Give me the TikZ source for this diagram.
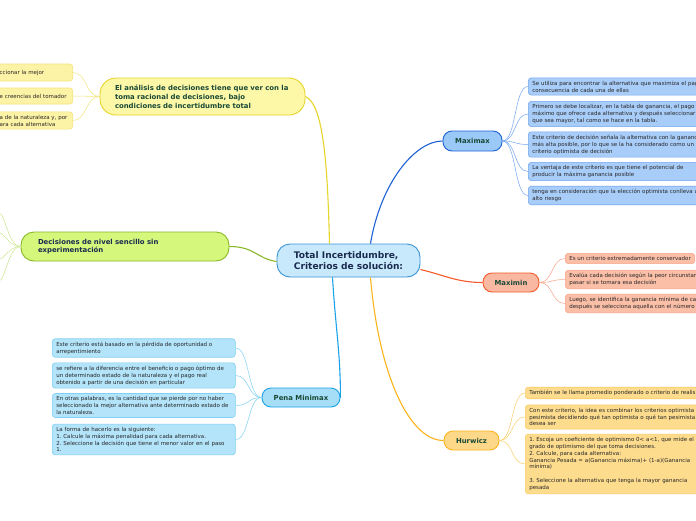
\documentclass[tikz,border=0pt]{standalone}
\usepackage{fontspec}
\setmainfont{DejaVu Sans}
\usepackage{xcolor}

\definecolor{rootfill}{HTML}{C7E9FB}
\definecolor{rootline}{HTML}{3A93D8}
\definecolor{navy}{HTML}{1B2B4F}
\definecolor{darkgreen}{HTML}{194A36}
\definecolor{leaftext}{HTML}{262626}
\definecolor{ylwfill}{HTML}{FDF7A8}
\definecolor{ylwline}{HTML}{E8D52B}
\definecolor{ylwleaf}{HTML}{FDF3A6}
\definecolor{ylwtwig}{HTML}{F2E47C}
\definecolor{grnfill}{HTML}{D4F77C}
\definecolor{grnline}{HTML}{8AB82A}
\definecolor{grntwig}{HTML}{CBE68E}
\definecolor{maxfill}{HTML}{9AC8F7}
\definecolor{maxline}{HTML}{1F62D6}
\definecolor{maxleaf}{HTML}{A9CDF9}
\definecolor{maxtwig}{HTML}{72A6F0}
\definecolor{minfill}{HTML}{F9B8A2}
\definecolor{minline}{HTML}{F25A2B}
\definecolor{minleaf}{HTML}{FBBFA8}
\definecolor{mintwig}{HTML}{F9A58A}
\definecolor{hurfill}{HTML}{FDD889}
\definecolor{hurline}{HTML}{FBB41C}
\definecolor{hurleaf}{HTML}{FDDC8E}
\definecolor{hurtwig}{HTML}{FBCF68}
\definecolor{penfill}{HTML}{A6DEF7}
\definecolor{penline}{HTML}{1BA2E8}
\definecolor{penleaf}{HTML}{B3E4FA}
\definecolor{pentwig}{HTML}{80D0F1}

\begin{document}
\begin{tikzpicture}[x=1pt, y=-1pt,
    topic/.style={draw, line width=0.9pt, rounded corners=9pt, inner sep=0pt,
        font={\fontsize{6.9}{8.8}\selectfont\bfseries}, align=center},
    leaf/.style={draw, line width=0.6pt, rounded corners=3pt, align=left,
        inner xsep=4pt, inner ysep=3pt, text=leaftext,
        font={\fontsize{5.5}{6.9}\selectfont\frenchspacing}},
    link/.style={line width=1.1pt},
    twig/.style={line width=0.5pt}]

    % Page
    \fill[white] (0,0) rectangle (696,520);
    \useasboundingbox (0,0) rectangle (696,520);

    % Central topic
    \node[topic, fill=rootfill, draw=rootline, text=navy, rounded corners=13pt,
        minimum width=143pt, minimum height=33pt, align=left,
        font={\fontsize{9.1}{11.2}\selectfont\bfseries}] (root) at (348.5,260.5)
        {Total Incertidumbre,\\Criterios de solución:};

    % Main topics
    \node[topic, fill=ylwfill, draw=ylwline, text=darkgreen, rounded corners=16pt,
        text width=175pt, inner xsep=15pt, minimum height=37pt, align=left] (analisis)
        at (202.5,96.5) {El análisis de decisiones tiene que ver con la\\toma racional de decisiones, bajo\\condiciones de incertidumbre total};
    \node[topic, fill=grnfill, draw=grnline, text=navy, rounded corners=13pt,
        text width=174pt, inner xsep=17pt, minimum height=29pt, align=left] (sencillo)
        at (125,246.5) {Decisiones de nivel sencillo sin\\experimentación};
    \node[topic, fill=maxfill, draw=maxline, text=darkgreen,
        minimum width=59pt, minimum height=20pt] (maximax) at (472.5,141) {Maximax};
    \node[topic, fill=minfill, draw=minline, text=darkgreen,
        minimum width=56pt, minimum height=19pt] (maximin) at (511,282.5) {Maximin};
    \node[topic, fill=hurfill, draw=hurline, text=darkgreen,
        minimum width=55pt, minimum height=19pt] (hurwicz) at (471.5,440.5) {Hurwicz};
    \node[topic, fill=penfill, draw=penline, text=darkgreen,
        minimum width=78pt, minimum height=19pt] (pena) at (301,397.5) {Pena Minimax};

    % Branches from the centre
    \draw[link, ylwline] (analisis.east) .. controls +(18,8) and +(-2,-80) .. ([xshift=-19pt]root.north);
    \draw[link, maxline] ([xshift=22pt]root.north) .. controls +(10,-60) and +(-28,0) .. (maximax.west);
    \draw[link, minline] ([yshift=-9pt]root.east) .. controls +(25,6) and +(-25,0) .. (maximin.west);
    \draw[link, hurline] ([xshift=22pt]root.south) .. controls +(8,95) and +(-35,0) .. (hurwicz.west);
    \draw[link, penline] ([xshift=-16pt]root.south) .. controls +(3,50) and +(0,-45) .. (pena.east);
    \draw[link, grnline] (sencillo.east) .. controls +(25,0) and +(-20,-3) .. ([yshift=-1pt]root.west);

    % Left leaves of the first topic (cut by the page edge)
    \node[leaf, fill=ylwleaf, draw=ylwtwig, anchor=east, text width=69pt, minimum height=17pt]
        (ly1) at (73,72.5) {ccionar la mejor};
    \node[leaf, fill=ylwleaf, draw=ylwtwig, anchor=east, text width=69pt, minimum height=16pt]
        (ly2) at (73,96) {e creencias del tomador};
    \node[leaf, fill=ylwleaf, draw=ylwtwig, anchor=east, text width=69pt]
        (ly3) at (73,120.5) {a de la naturaleza y, por\\ara cada alternativa};
    \foreach \c in {ly1,ly2,ly3}
        \draw[twig, ylwtwig] (analisis.west) .. controls +(-14,0) and +(14,0) .. (\c.east);

    % Leaves of the green topic lie beyond the page
    \coordinate (g1) at (-1,213);
    \coordinate (g2) at (-1,233);
    \coordinate (g3) at (-1,259);
    \coordinate (g4) at (-1,281);
    \foreach \c in {g1,g2,g3,g4}
        \draw[twig, grntwig] (sencillo.west) .. controls +(-12,0) and +(6,0) .. (\c);

    % Maximax leaves
    \node[leaf, fill=maxleaf, draw=maxtwig, anchor=west, text width=200pt] (mx1) at (528,86.5)
        {Se utiliza para encontrar la alternativa que maximiza el pago\\consecuencia de cada una de ellas};
    \node[leaf, fill=maxleaf, draw=maxtwig, anchor=west, text width=200pt] (mx2) at (528,114)
        {Primero se debe localizar, en la tabla de ganancia, el pago\\máximo que ofrece cada alternativa y después seleccionar\\que sea mayor, tal como se hace en la tabla.};
    \node[leaf, fill=maxleaf, draw=maxtwig, anchor=west, text width=200pt] (mx3) at (528,144.5)
        {Este criterio de decisión señala la alternativa con la ganancia\\más alta posible, por lo que se la ha considerado como un\\criterio optimista de decisión};
    \node[leaf, fill=maxleaf, draw=maxtwig, anchor=west, text width=200pt] (mx4) at (528,171.5)
        {La ventaja de este criterio es que tiene el potencial de\\producir la máxima ganancia posible};
    \node[leaf, fill=maxleaf, draw=maxtwig, anchor=west, text width=200pt] (mx5) at (528,195.5)
        {tenga en consideración que la elección optimista conlleva un\\alto riesgo};
    \foreach \c in {mx1,mx2,mx3,mx4,mx5}
        \draw[twig, maxtwig] (maximax.east) .. controls +(14,0) and +(-14,0) .. (\c.west);

    % Maximin leaves
    \node[leaf, fill=minleaf, draw=mintwig, anchor=west] (mn1) at (565,258.5)
        {Es un criterio extremadamente conservador};
    \node[leaf, fill=minleaf, draw=mintwig, anchor=west, text width=200pt] (mn2) at (565,279.5)
        {Evalúa cada decisión según la peor circunstancia\\pasar si se tomara esa decisión};
    \node[leaf, fill=minleaf, draw=mintwig, anchor=west, text width=200pt] (mn3) at (565,303.5)
        {Luego, se identifica la ganancia mínima de cada\\después se selecciona aquella con el número};
    \foreach \c in {mn1,mn2,mn3}
        \draw[twig, mintwig] (maximin.east) .. controls +(14,0) and +(-14,0) .. (\c.west);

    % Hurwicz leaves
    \node[leaf, fill=hurleaf, draw=hurtwig, anchor=west, text width=200pt] (hz1) at (525,393)
        {También se le llama promedio ponderado o criterio de realismo};
    \node[leaf, fill=hurleaf, draw=hurtwig, anchor=west, text width=200pt] (hz2) at (525,417)
        {Con este criterio, la idea es combinar los criterios optimista y\\pesimista decidiendo qué tan optimista o qué tan pesimista\\desea ser};
    \node[leaf, fill=hurleaf, draw=hurtwig, anchor=west, text width=200pt] (hz3) at (525,464)
        {1. Escoja un coeficiente de optimismo 0< a<1, que mide el\\grado de optimismo del que toma decisiones.\\2. Calcule, para cada alternativa:\\Ganancia Pesada = a(Ganancia máxima)+ (1-a)(Ganancia\\mínima)\\[6.9pt]3. Seleccione la alternativa que tenga la mayor ganancia\\pesada};
    \foreach \c in {hz1,hz2,hz3}
        \draw[twig, hurtwig] (hurwicz.east) .. controls +(14,0) and +(-14,0) .. (\c.west);

    % Pena Minimax leaves
    \node[leaf, fill=penleaf, draw=pentwig, anchor=west, text width=175pt] (pm1) at (52,348)
        {Este criterio está basado en la pérdida de oportunidad o\\arrepentimiento};
    \node[leaf, fill=penleaf, draw=pentwig, anchor=west, text width=175pt] (pm2) at (52,375.5)
        {se refiere a la diferencia entre el beneficio o pago óptimo de\\un determinado estado de la naturaleza y el pago real\\obtenido a partir de una decisión en particular};
    \node[leaf, fill=penleaf, draw=pentwig, anchor=west, text width=175pt] (pm3) at (52,405.5)
        {En otras palabras, es la cantidad que se pierde por no haber\\seleccionado la mejor alternativa ante determinado estado de\\la naturaleza.};
    \node[leaf, fill=penleaf, draw=pentwig, anchor=west, text width=175pt] (pm4) at (52,439.5)
        {La forma de hacerlo es la siguiente:\\1. Calcule la máxima penalidad para cada alternativa.\\2. Seleccione la decisión que tiene el menor valor en el paso\\1.};
    \foreach \c in {pm1,pm2,pm3,pm4}
        \draw[twig, pentwig] (pena.west) .. controls +(-14,0) and +(14,0) .. (\c.east);
\end{tikzpicture}
\end{document}
